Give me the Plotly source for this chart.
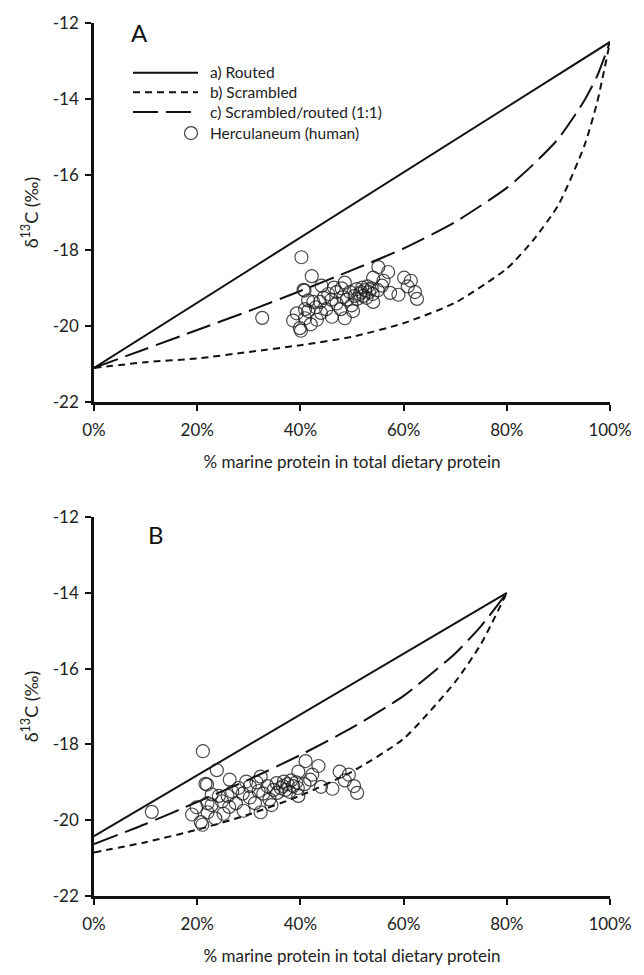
import plotly.graph_objects as go

# ---------------- data ----------------
x_ticks = [0, 20, 40, 60, 80, 100]
x_tick_labels = ["0%", "20%", "40%", "60%", "80%", "100%"]
y_ticks = [-12, -14, -16, -18, -20, -22]
y_tick_labels = ["-12", "-14", "-16", "-18", "-20", "-22"]

# Panel A model curves
pct_a = [0, 10, 20, 30, 40, 50, 60, 70, 80, 85, 90, 95, 97.5, 100]
routed_a_x = [0, 100]
routed_a_y = [-21.1, -12.5]
scrambled_a = [-21.1, -20.95, -20.85, -20.68, -20.5, -20.28, -19.92, -19.38,
               -18.48, -17.75, -16.8, -15.25, -14.1, -12.5]
mixed_a = [-21.1, -20.6, -20.1, -19.6, -19.07, -18.52, -17.95, -17.25,
           -16.35, -15.75, -15.05, -14.05, -13.4, -12.5]

# Panel B model curves
pct_b = [0, 10, 20, 30, 40, 50, 60, 70, 75, 80]
routed_b_x = [0, 80]
routed_b_y = [-20.42, -14.0]
scrambled_b = [-20.85, -20.58, -20.25, -19.85, -19.35, -18.72, -17.85, -16.35, -15.35, -14.0]
mixed_b = [-20.63, -20.1, -19.52, -18.93, -18.28, -17.56, -16.72, -15.6, -14.88, -14.0]

# Herculaneum humans: d13C values and % marine protein under assumptions A and B
herc_d13c = [-19.78, -18.18, -18.68, -19.04, -19.06, -18.93, -19.32, -19.36, -19.55, -19.66,
             -19.85, -19.79, -20.05, -20.12, -19.36, -19.83, -19.55, -19.15, -19.75, -19.40,
             -19.10, -18.85, -19.23, -19.79, -19.45, -19.10, -19.02, -19.15, -18.98, -19.05,
             -18.95, -19.10, -19.20, -19.28, -19.00, -19.36, -18.44, -18.72, -18.80, -18.57,
             -18.93, -19.12, -19.17, -18.72, -18.80, -18.95, -19.10, -19.28, -18.98, -19.30,
             -19.25, -19.60, -19.55, -19.95, -19.65, -19.25, -19.15, -19.05, -19.10, -19.20,
             -19.30, -19.00, -19.60, -19.50]
herc_pct_a = [32.6, 40.2, 42.2, 40.6, 40.8, 44.1, 41.5, 43.8, 40.9, 39.3,
              38.6, 40.9, 39.9, 40.1, 42.5, 43.2, 45.0, 45.4, 46.1, 47.0,
              47.0, 48.6, 48.3, 48.6, 49.9, 49.6, 50.9, 51.5, 52.0, 52.5,
              53.0, 53.3, 52.2, 51.0, 53.8, 54.1, 55.1, 54.1, 56.1, 57.0,
              55.8, 57.4, 59.0, 60.1, 61.4, 60.8, 62.2, 62.6, 46.5, 49.0,
              44.5, 50.2, 47.8, 42.0, 44.0, 52.8, 54.0, 55.0, 51.8, 50.5,
              46.0, 48.0, 41.5, 43.0]
herc_pct_b = [11.2, 21.1, 23.8, 21.6, 21.9, 26.3, 22.8, 25.9, 22.0, 19.9,
              19.0, 22.0, 20.7, 21.0, 24.2, 25.1, 27.5, 28.0, 29.0, 30.2,
              30.2, 32.3, 31.9, 32.3, 34.0, 33.6, 35.4, 36.2, 36.8, 37.5,
              38.2, 38.6, 37.1, 35.5, 39.2, 39.6, 41.0, 39.6, 42.3, 43.5,
              41.9, 44.0, 46.2, 47.6, 49.4, 48.6, 50.4, 51.0, 29.5, 32.8,
              26.8, 34.4, 31.2, 23.5, 26.2, 37.9, 39.5, 40.8, 36.6, 34.8,
              28.8, 31.5, 22.8, 24.8]

legend_labels = ["a) Routed", "b) Scrambled", "c) Scrambled/routed (1:1)", "Herculaneum (human)"]

# ---------------- figure ----------------
W, H = 644, 975
ML, MR, MT, MB = 94, 34, 17, 62
PW, PH = W - ML - MR, H - MT - MB
FONT = "Lato, 'Open Sans', sans-serif"
INK = "#111111"

def px(xp):
    return (xp - ML) / PW

def py(yp):
    return (H - MB - yp) / PH

dom_a = [py(406), 1.0]
dom_b = [0.0, py(524)]

SHORT = "7px,5px"
LONG = "25px,8px"
LW = 2

fig = go.Figure()

def add_panel(xa, ya, pct, routed_x, routed_y, scr, mix, herc_x):
    fig.add_trace(go.Scatter(x=routed_x, y=routed_y, mode="lines", xaxis=xa, yaxis=ya,
                             line=dict(color=INK, width=LW), showlegend=False))
    fig.add_trace(go.Scatter(x=pct, y=scr, mode="lines", xaxis=xa, yaxis=ya,
                             line=dict(color=INK, width=LW, dash=SHORT, shape="spline", smoothing=0.6),
                             showlegend=False))
    fig.add_trace(go.Scatter(x=pct, y=mix, mode="lines", xaxis=xa, yaxis=ya,
                             line=dict(color=INK, width=LW, dash=LONG, shape="spline", smoothing=0.6),
                             showlegend=False))
    fig.add_trace(go.Scatter(x=herc_x, y=herc_d13c, mode="markers", xaxis=xa, yaxis=ya,
                             marker=dict(symbol="circle-open", size=13, color="rgba(30,30,30,0.8)",
                                         line=dict(width=1.2)),
                             showlegend=False))

add_panel("x", "y", pct_a, routed_a_x, routed_a_y, scrambled_a, mixed_a, herc_pct_a)
add_panel("x2", "y2", pct_b, routed_b_x, routed_b_y, scrambled_b, mixed_b, herc_pct_b)

xcommon = dict(range=[0, 100], tickvals=x_ticks, ticktext=x_tick_labels,
               showline=True, linecolor=INK, linewidth=2.5, ticks="outside", ticklen=6,
               tickwidth=2, tickcolor=INK, showgrid=False, zeroline=False,
               ticklabelstandoff=5,
               tickfont=dict(family=FONT, size=17, color="#222"),
               title=dict(text="% marine protein in total dietary protein",
                          font=dict(family=FONT, size=17, color="#222"), standoff=17))
ycommon = dict(range=[-22, -12], tickvals=y_ticks, ticktext=y_tick_labels,
               showline=True, linecolor=INK, linewidth=2.5, ticks="outside", ticklen=6,
               tickwidth=2, tickcolor=INK, showgrid=False, zeroline=False,
               ticklabelstandoff=3,
               tickfont=dict(family=FONT, size=17, color="#222"),
               title=dict(text="δ<sup>13</sup>C (‰)",
                          font=dict(family=FONT, size=18, color="#222"), standoff=10))

fig.update_layout(
    width=W, height=H, margin=dict(l=ML, r=MR, t=MT, b=MB),
    paper_bgcolor="white", plot_bgcolor="white", showlegend=False,
    xaxis=dict(domain=[0, 1], anchor="y", **xcommon),
    yaxis=dict(domain=dom_a, anchor="x", **ycommon),
    xaxis2=dict(domain=[0, 1], anchor="y2", **xcommon),
    yaxis2=dict(domain=dom_b, anchor="x2", **ycommon),
)

# panel letters
fig.add_annotation(x=px(139), y=py(27), xref="paper", yref="paper", text="A", showarrow=False,
                   font=dict(family=FONT, size=24, color="#111"), xanchor="center", yanchor="middle")
fig.add_annotation(x=px(156), y=py(542), xref="paper", yref="paper", text="B", showarrow=False,
                   font=dict(family=FONT, size=24, color="#111"), xanchor="center", yanchor="middle")

# legend drawn by hand (panel A)
LEG_FS = 15.5
line_gap = LEG_FS * 1.3
rows = [68, 68 + line_gap, 68 + 2 * line_gap, 130]
dashes = ["solid", SHORT, LONG]
for r, d in zip(rows[:3], dashes):
    fig.add_shape(type="line", xref="paper", yref="paper", x0=px(133), x1=px(198),
                  y0=py(r), y1=py(r), line=dict(color=INK, width=LW, dash=d))
fig.add_shape(type="circle", xref="paper", yref="paper", xsizemode="pixel", ysizemode="pixel",
              xanchor=px(191), yanchor=py(rows[3]), x0=-6.5, x1=6.5, y0=-6.5, y1=6.5,
              line=dict(color="rgba(30,30,30,0.85)", width=1.2))
fig.add_annotation(x=px(208), y=py(rows[1]), xref="paper", yref="paper",
                   text="<br>".join(legend_labels[:3]), showarrow=False, align="left",
                   xanchor="left", yanchor="middle",
                   font=dict(family=FONT, size=LEG_FS, color="#222"))
fig.add_annotation(x=px(208), y=py(rows[3]), xref="paper", yref="paper", text=legend_labels[3],
                   showarrow=False, xanchor="left", yanchor="middle",
                   font=dict(family=FONT, size=LEG_FS, color="#222"))

fig.write_html("out.html")
